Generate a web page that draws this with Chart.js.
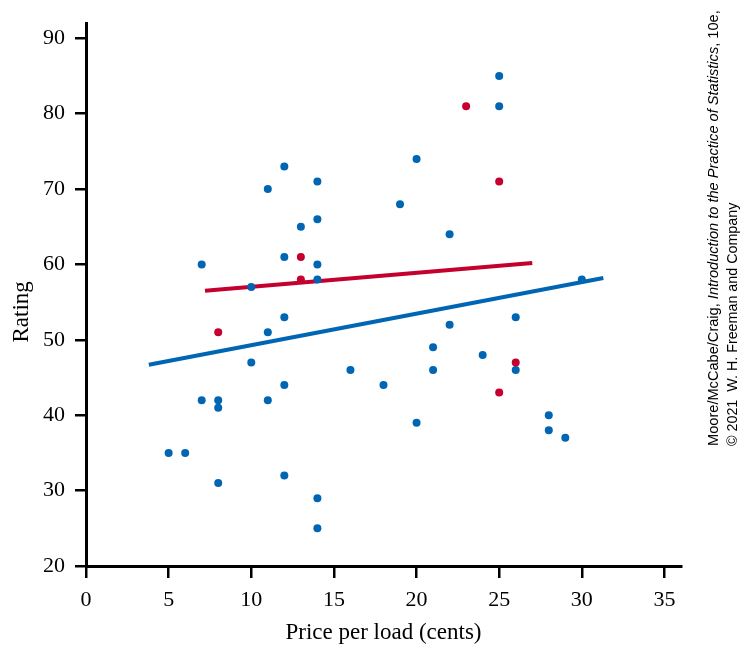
<!DOCTYPE html>
<html>
<head>
<meta charset="utf-8">
<script src="https://cdn.jsdelivr.net/npm/chart.js@4/dist/chart.umd.min.js"></script>
<style>
  body { margin: 0; background: #fff; }
  #wrap { position: relative; width: 745px; height: 652px; }
  #credit {
    position: absolute; left: 703px; top: 446px;
    transform-origin: 0 0; transform: rotate(-90deg);
    font-family: "Liberation Sans Narrow", "Liberation Sans", sans-serif;
    font-size: 15px; line-height: 19px; color: #000; white-space: nowrap;
  }
  #credit div { transform-origin: 0 50%; display: inline-block; }
</style>
</head>
<body>
<div id="wrap">
  <canvas id="myChart" width="745" height="652"></canvas>
  <div id="credit">
    <div id="line1">Moore/McCabe/Craig, <i>Introduction to the Practice of Statistics</i>, 10e,</div><br>
    <div id="line2">© 2021&nbsp; W. H. Freeman and Company</div>
  </div>
</div>
<script>
/* datos */
const priceBlue = [5, 6, 7, 7, 8, 8, 8, 10, 10, 11, 11, 11, 12, 12, 12, 12, 12, 13, 14, 14, 14, 14, 14, 14,
  16, 18, 19, 20, 20, 21, 21, 22, 22, 24, 25, 25, 26, 26, 28, 28, 29, 30];
const ratingBlue = [35, 35, 42, 60, 42, 41, 31, 57, 47, 70, 51, 42, 73, 61, 53, 44, 32, 65, 71, 66, 60, 58, 29, 25,
  46, 44, 68, 74, 39, 49, 46, 64, 52, 48, 85, 81, 53, 46, 40, 38, 37, 58];

const priceRed = [8, 13, 13, 23, 25, 25, 26];
const ratingRed = [51, 61, 58, 81, 71, 43, 47];

/* rectas de regresion (extremos) */
const blueLineX = [3.8, 31.3];
const blueLineY = [46.7, 58.2];
const redLineX = [7.2, 27];
const redLineY = [56.5, 60.2];

const xTicks = [0, 5, 10, 15, 20, 25, 30, 35];
const yTicks = [20, 30, 40, 50, 60, 70, 80, 90];

const BLUE = "#0066B3";
const RED = "#C4002F";

const toPoints = (xs, ys) => xs.map((x, i) => ({ x: x, y: ys[i] }));

const ctx = document.getElementById("myChart").getContext("2d");
const myChart = new Chart(ctx, {
  type: "scatter",
  data: {
    datasets: [
      {
        label: "Red",
        data: toPoints(priceRed, ratingRed),
        backgroundColor: RED,
        borderWidth: 0,
        pointRadius: 4,
      },
      {
        label: "Blue",
        data: toPoints(priceBlue, ratingBlue),
        backgroundColor: BLUE,
        borderWidth: 0,
        pointRadius: 4,
      },
      {
        type: "line",
        label: "Red fit",
        data: toPoints(redLineX, redLineY),
        borderColor: RED,
        borderWidth: 4,
        pointRadius: 0,
        fill: false,
      },
      {
        type: "line",
        label: "Blue fit",
        data: toPoints(blueLineX, blueLineY),
        borderColor: BLUE,
        borderWidth: 4,
        pointRadius: 0,
        fill: false,
      },
    ],
  },
  options: {
    responsive: false,
    animation: false,
    layout: { padding: { left: 0, top: 18, right: 64, bottom: 0 } },
    plugins: {
      legend: { display: false },
      tooltip: { enabled: false },
    },
    scales: {
      x: {
        type: "linear",
        min: 0,
        max: 36,
        afterBuildTicks: (s) => { s.ticks = xTicks.map((v) => ({ value: v })); },
        afterFit: (s) => { s.height = 86; },
        grid: { drawOnChartArea: false, drawTicks: true, tickLength: 12, lineWidth: 2.5, color: "#000" },
        border: { display: true, width: 3, color: "#000" },
        ticks: { color: "#000", padding: 9, font: { family: "Liberation Serif", size: 22 } },
        title: {
          display: true,
          text: "Price per load (cents)",
          color: "#000",
          padding: { top: 0, bottom: 5 },
          font: { family: "Liberation Serif", size: 23 },
        },
      },
      y: {
        min: 20,
        max: 92,
        afterBuildTicks: (s) => { s.ticks = yTicks.map((v) => ({ value: v })); },
        afterFit: (s) => { s.width = 86; },
        grid: { drawOnChartArea: false, drawTicks: true, tickLength: 11, lineWidth: 2.5, color: "#000" },
        border: { display: true, width: 3, color: "#000" },
        ticks: { color: "#000", padding: 10, font: { family: "Liberation Serif", size: 22 } },
        title: {
          display: true,
          text: "Rating\u00a0\u00a0\u00a0\u00a0\u00a0\u00a0",
          color: "#000",
          padding: { top: 8, bottom: 0 },
          font: { family: "Liberation Serif", size: 23 },
        },
      },
    },
  },
});

/* ajustar el texto de credito al largo del original */
const fit = (id, len) => {
  const el = document.getElementById(id);
  el.style.transform = "scaleX(" + (len / el.offsetWidth) + ")";
};
fit("line1", 436);
fit("line2", 243);
</script>
</body>
</html>
